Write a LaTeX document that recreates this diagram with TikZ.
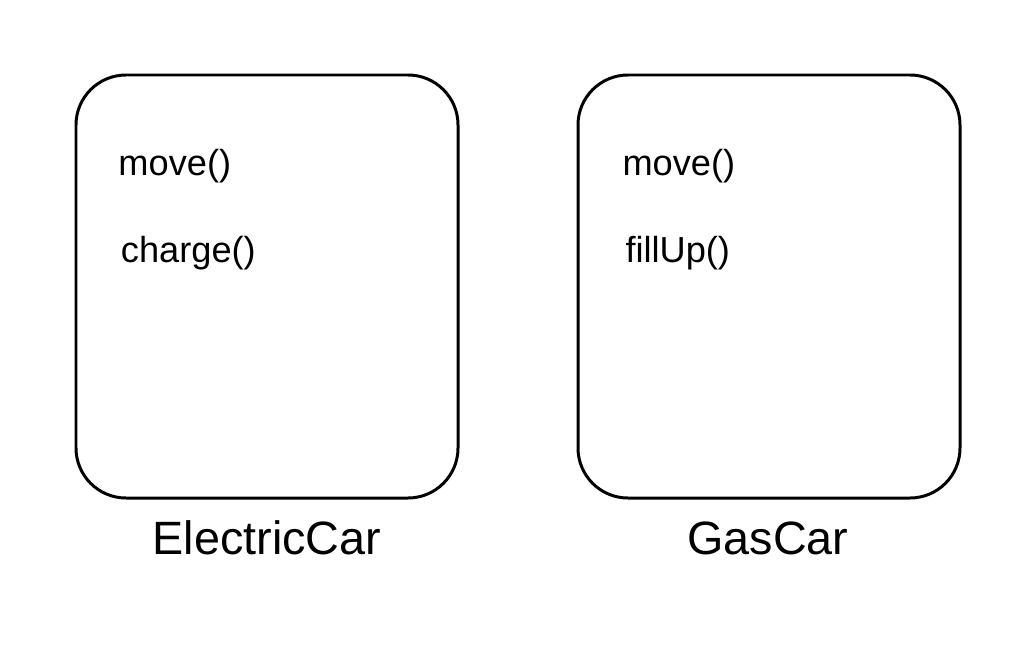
\documentclass[tikz,border=0pt]{standalone}
\usepackage{fontspec}
\setmainfont{Liberation Sans}
\begin{document}
\begin{tikzpicture}[line width=1.7pt]
            \useasboundingbox (0, 0) rectangle (20.7, -12.96);
            \tikzset{classbox/.style={rounded corners=1cm},
                method/.style={anchor=base west, inner sep=0pt, font=\fontsize{20.6}{24}\selectfont},
                classname/.style={anchor=base, inner sep=0pt, font=\fontsize{26.6}{31}\selectfont}}

            \coordinate (E1) at (1.52, -1.5);
            \coordinate (E2) at (9.16, -9.96);
            \coordinate (G1) at (11.56, -1.5);
            \coordinate (G2) at (19.2, -9.96);

            \draw[classbox] (E1) rectangle (E2);
            \draw[classbox] (G1) rectangle (G2);

            \node[method] (emove) at (2.34, -3.5) {move()};
            \node[method] (echarge) at (2.39, -5.24) {charge()};
            \node[method] (gmove) at (12.42, -3.5) {move()};
            \node[method] (gfill) at (12.48, -5.24) {fillUp()};

            \node[classname] (electric) at (5.34, -11.08) {ElectricCar};
            \node[classname] (gas) at (15.36, -11.08) {GasCar};
        \end{tikzpicture}
\end{document}
